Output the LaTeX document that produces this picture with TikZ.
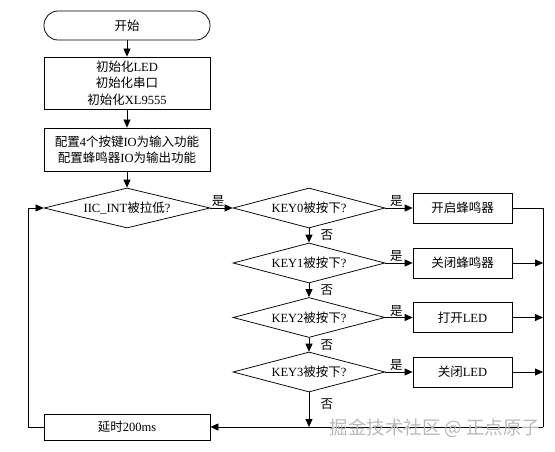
\documentclass[tikz,border=0pt]{standalone}
\usepackage{fontspec}
\setmainfont{Liberation Serif}
\newfontfamily\cjk{Noto Sans CJK SC}
\usetikzlibrary{shapes.geometric,arrows.meta}

\begin{document}
\begin{tikzpicture} %Diagrama de flujo
  [
    x=1pt, y=-1pt, line width=0.75pt,
    font=\fontsize{12.5}{16.5}\selectfont,
    % Estilos de los nodos y flechas
    caja/.style={rectangle, draw, minimum width=166pt, inner sep=0pt, align=center},
    inicio/.style={rectangle, draw, rounded corners=14pt, minimum width=166pt, minimum height=29pt},
    rombo/.style={diamond, draw, aspect=5, inner sep=0pt, minimum height=40pt},
    accion/.style={rectangle, draw, minimum width=99pt, minimum height=30pt},
    flecha/.style={-{Triangle[length=8pt,width=7pt]}}
  ]
  \useasboundingbox (0,0) rectangle (555,452);
  \node[inicio] (ini) at (127,25.5) {{\cjk 开始}};
  \node[caja, minimum height=52pt] (init) at (127,83) {{\cjk 初始化}LED\\{\cjk 初始化串口}\\{\cjk 初始化}XL9555};
  \node[caja, minimum height=43pt] (conf) at (127,149.5) {{\cjk 配置}4{\cjk 个按键}IO{\cjk 为输入功能}\\{\cjk 配置蜂鸣器}IO{\cjk 为输出功能}};
  \node[rombo, minimum width=166pt] (iic) at (127,208) {IIC\_INT{\cjk 被拉低}?};
  \node[rombo, minimum width=152pt] (k0) at (309,208) {KEY0{\cjk 被按下}?};
  \node[rombo, minimum width=152pt] (k1) at (309,263) {KEY1{\cjk 被按下}?};
  \node[rombo, minimum width=152pt] (k2) at (309,317.5) {KEY2{\cjk 被按下}?};
  \node[rombo, minimum width=152pt] (k3) at (309,372) {KEY3{\cjk 被按下}?};
  \node[accion] (b0) at (462.5,208) {{\cjk 开启蜂鸣器}};
  \node[accion] (b1) at (462.5,263) {{\cjk 关闭蜂鸣器}};
  \node[accion] (b2) at (462.5,317.5) {{\cjk 打开}LED};
  \node[accion] (b3) at (462.5,372) {{\cjk 关闭}LED};
  \node[caja, minimum height=26pt] (delay) at (127,427) {{\cjk 延时}200ms};
  \coordinate (r0) at (543,208);
  \coordinate (r1) at (543,263);
  \coordinate (r2) at (543,317.5);
  \coordinate (r3) at (543,372);
  \coordinate (rb) at (543,427);
  \coordinate (l0) at (28,427);
  \coordinate (l1) at (28,208);
  \draw[flecha] (ini) -- (init);
  \draw[flecha] (init) -- (conf);
  \draw[flecha] (conf) -- (iic);
  \draw[flecha] (iic) -- node[above, pos=0.35, inner sep=1pt] {\cjk 是} (k0);
  \draw[flecha] (k0) -- node[above, pos=0.4, inner sep=1pt] {\cjk 是} (b0);
  \draw[flecha] (k1) -- node[above, pos=0.4, inner sep=1pt] {\cjk 是} (b1);
  \draw[flecha] (k2) -- node[above, pos=0.4, inner sep=1pt] {\cjk 是} (b2);
  \draw[flecha] (k3) -- node[above, pos=0.4, inner sep=1pt] {\cjk 是} (b3);
  \draw[flecha] (k0) -- node[right, xshift=8pt] {\cjk 否} (k1);
  \draw[flecha] (k1) -- node[right, xshift=8pt] {\cjk 否} (k2);
  \draw[flecha] (k2) -- node[right, xshift=8pt] {\cjk 否} (k3);
  \draw[flecha] (k3) -- node[right, pos=0.35, xshift=8pt] {\cjk 否} (k3 |- delay);
  \draw (b0) -- (r0) -- (rb);
  \draw[flecha] (b1) -- (r1);
  \draw[flecha] (b2) -- (r2);
  \draw[flecha] (b3) -- (r3);
  \draw[flecha] (rb) -- (delay);
  \draw[flecha] (delay) -- (l0) -- (l1) -- (iic);
  \node[text=gray!55, font=\cjk\fontsize{18.5}{18.5}\selectfont] (marca) at (435,428) {掘金技术社区 @ 正点原子};
\end{tikzpicture}
\end{document}
